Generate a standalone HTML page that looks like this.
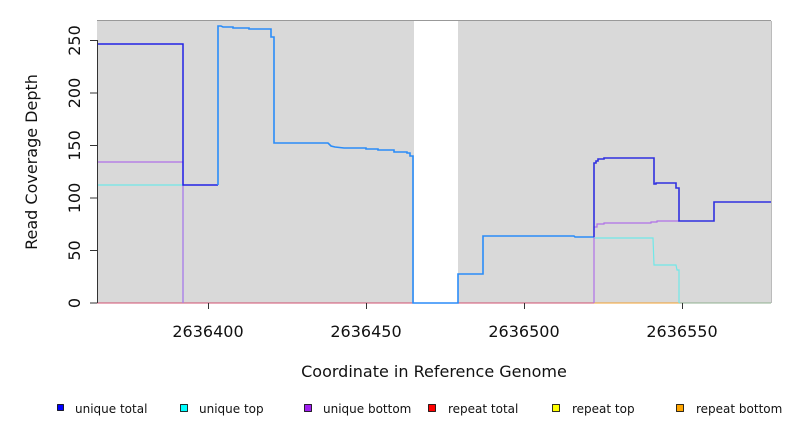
<!DOCTYPE html>
<html><head><style>body{margin:0;background:#fff}svg{display:block}text{font-family:"DejaVu Sans","Liberation Sans",sans-serif}</style></head><body>
<svg width="792" height="432" viewBox="0 0 792 432">
<rect x="97" y="21" width="317" height="282" fill="#d9d9d9"/>
<rect x="458" y="21" width="313" height="282" fill="#d9d9d9"/>
<line x1="97" y1="20.5" x2="771" y2="20.5" stroke="#999" stroke-width="1"/>
<line x1="771.5" y1="21" x2="771.5" y2="303" stroke="#bbb"/>
<line x1="97" y1="303" x2="594" y2="303" stroke="#d05070" stroke-width="1"/>
<line x1="594" y1="303" x2="679" y2="303" stroke="#f0a030" stroke-width="1"/>
<line x1="679" y1="303" x2="771" y2="303" stroke="#90b090" stroke-width="1"/>
<polyline fill="none" stroke="#70e8e8" stroke-width="1.2" points="97,185 183,185 183,303"/>
<polyline fill="none" stroke="#70e8e8" stroke-width="1.2" points="594,238 653,238 654,265 676,265 677,270 679,270 679,303"/>
<polyline fill="none" stroke="#b070e8" stroke-width="1.2" points="97,162 183,162 183,303"/>
<polyline fill="none" stroke="#b070e8" stroke-width="1.2" points="594,303 594,227 597,227 597,224 604,224 604,223 651,223 651,222 657,222 657,221 679,221"/>
<polyline fill="none" stroke="#2222e6" stroke-width="1.5" points="97,44 183,44 183,185 218,185"/>
<polyline fill="none" stroke="#2a8cf8" stroke-width="1.6" points="218,185 218,26 221,26 223,27 233,27 233,28 249,28 249,29 271,29 271,37 274,37 274,143 328,143 331,146 335,147 344,148 366,148 366,149 378,149 378,150 394,150 394,152 407,152 407,153 410,153 410,156 413,156 413,303 458,303 458,274 483,274 483,236 574,236 575,237 594,237"/>
<polyline fill="none" stroke="#3030e0" stroke-width="1.6" points="594,237 594,163 596,163 596,161 598,161 598,159 604,159 604,158 654,158 654,184 656,184 656,183 676,183 676,188 679,188 679,221 714,221 714,202 771,202"/>
<line x1="97.5" y1="40" x2="97.5" y2="303" stroke="#333"/>
<g stroke="#333"><line x1="90" y1="303" x2="97" y2="303"/><line x1="90" y1="250.5" x2="97" y2="250.5"/><line x1="90" y1="198" x2="97" y2="198"/><line x1="90" y1="145.5" x2="97" y2="145.5"/><line x1="90" y1="93" x2="97" y2="93"/><line x1="90" y1="40.5" x2="97" y2="40.5"/>
<line x1="208.5" y1="303" x2="208.5" y2="309"/><line x1="366.5" y1="303" x2="366.5" y2="309"/><line x1="524.5" y1="303" x2="524.5" y2="309"/><line x1="682.5" y1="303" x2="682.5" y2="309"/></g>
<g font-size="16" fill="#111" text-anchor="middle">
<text transform="translate(75,303) rotate(-90)" dy="5">0</text>
<text transform="translate(75,250.5) rotate(-90)" dy="5">50</text>
<text transform="translate(75,198) rotate(-90)" dy="5">100</text>
<text transform="translate(75,145.5) rotate(-90)" dy="5">150</text>
<text transform="translate(75,93) rotate(-90)" dy="5">200</text>
<text transform="translate(75,40.5) rotate(-90)" dy="5">250</text>
<text x="208" y="337">2636400</text><text x="366" y="337">2636450</text><text x="524" y="337">2636500</text><text x="682" y="337">2636550</text>
<text x="434" y="377">Coordinate in Reference Genome</text>
<text transform="translate(37,162) rotate(-90)">Read Coverage Depth</text>
</g>
<g font-size="12" fill="#111" stroke="#000" stroke-width="0.8">
<rect x="57.5" y="404.5" width="6" height="6" fill="#0000ff"/>
<rect x="180.5" y="404.5" width="7" height="7" fill="#00ffff"/>
<rect x="304.5" y="404.5" width="7" height="7" fill="#a020f0"/>
<rect x="428.5" y="404.5" width="7" height="7" fill="#ff0000"/>
<rect x="552.5" y="404.5" width="7" height="7" fill="#ffff00"/>
<rect x="676.5" y="404.5" width="7" height="7" fill="#ffa500"/>
</g>
<g font-size="12" fill="#111">
<text x="75" y="413">unique total</text><text x="199" y="413">unique top</text><text x="323" y="413">unique bottom</text><text x="448" y="413">repeat total</text><text x="572" y="413">repeat top</text><text x="696" y="413">repeat bottom</text>
</g>
</svg>
</body></html>
